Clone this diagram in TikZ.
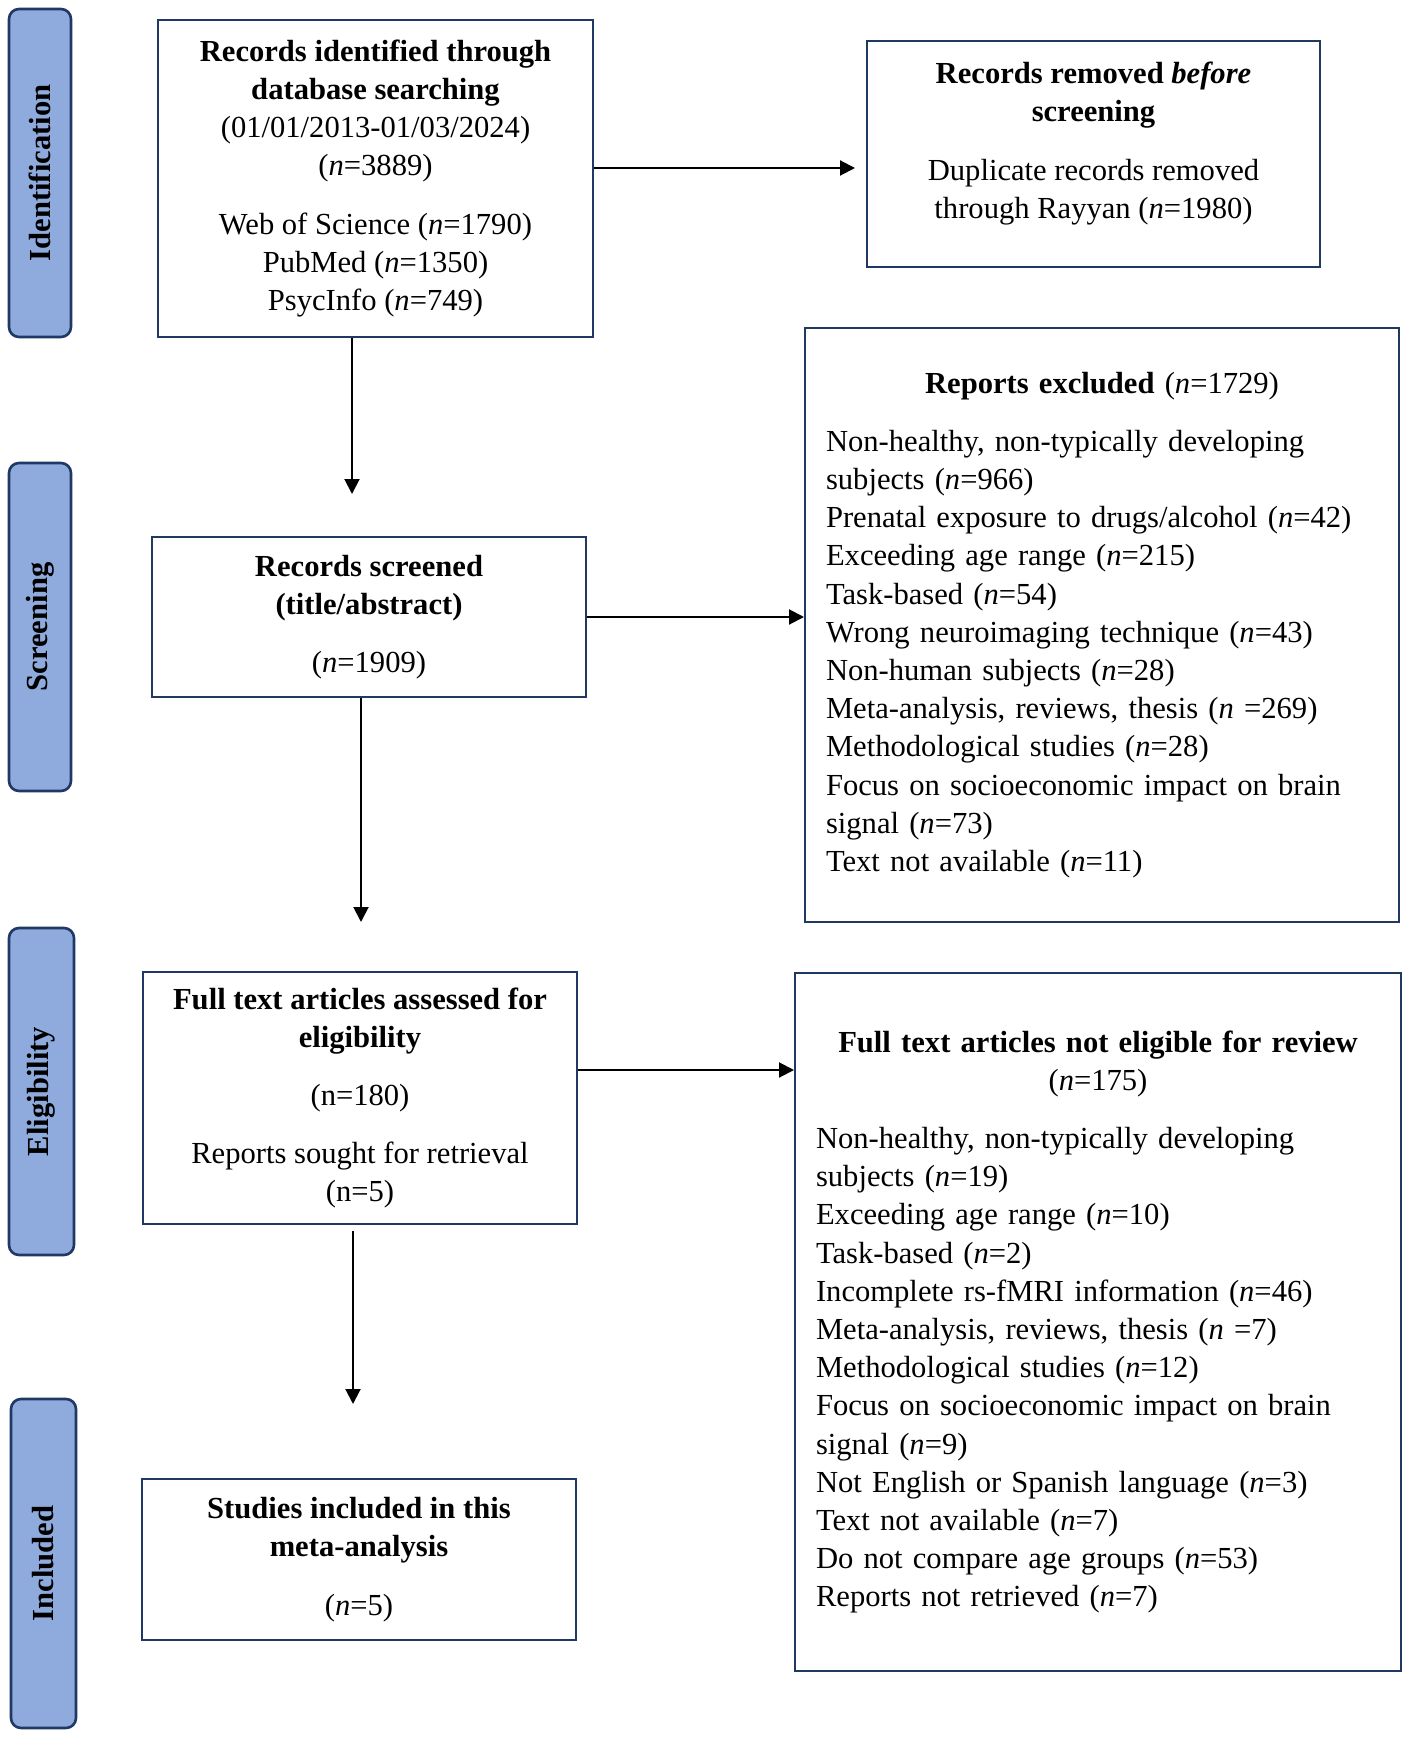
\documentclass[tikz,border=0pt]{standalone}
\usepackage{fontspec}
\setmainfont{Liberation Serif}
\usetikzlibrary{arrows.meta}
\definecolor{navy}{HTML}{1F3864}
\definecolor{tabblue}{HTML}{8FAADC}
\newcommand{\fsz}{\fontsize{15.3}{19.1}\selectfont}
\newcommand{\nn}{\textit{n}}
\begin{document}
\begin{tikzpicture}[x=0.5pt,y=-0.5pt,
  box/.style={draw=navy, line width=1pt, inner sep=0pt, align=center, font=\fsz},
  txt/.style={inner sep=0pt, align=center, font=\fsz},
  tab/.style={draw=navy, fill=tabblue, line width=1.3pt, rounded corners=5pt, rotate=90, font=\fsz\bfseries, inner sep=0pt},
  arr/.style={-{Triangle[length=7.5pt,width=7.5pt]}, line width=1pt, black}]
\fill[white] (0,0) rectangle (1418,1749);
\useasboundingbox (0,0) rectangle (1418,1749);

% stage tabs
\node[tab, minimum width=164pt, minimum height=31pt] (tid) at (40,173) {Identification};
\node[tab, minimum width=164pt, minimum height=31pt] (tsc) at (40,627) {Screening};
\node[tab, minimum width=163.5pt, minimum height=32.5pt] (tel) at (41.5,1091.5) {Eligibility};
\node[tab, minimum width=164.5pt, minimum height=32.5pt] (tin) at (43.5,1563.5) {Included};

% boxes
\node[box, minimum width=217.5pt, minimum height=158.5pt] (id) at (375.5,178.5)
  {\textbf{Records identified through}\\ \textbf{database searching}\\ (01/01/2013-01/03/2024)\\ (\nn=3889)\\[10pt]
   Web of Science (\nn=1790)\\ PubMed (\nn=1350)\\ PsycInfo (\nn=749)};

\node[box, minimum width=226.5pt, minimum height=113pt] (rem) at (1093.5,154) {};
\node[txt] (remtxt) at ([yshift=5.25pt]rem.center)
  {\textbf{Records removed \textit{before}}\\ \textbf{screening}\\[10pt]
   Duplicate records removed\\ through Rayyan (\nn=1980)};

\node[box, minimum width=297pt, minimum height=297pt, text width=276pt, align=left] (exc) at (1102,625)
  {\makebox[\linewidth]{\textbf{Reports excluded} (\nn=1729)}\\[10pt]
   Non-healthy, non-typically developing\\
   subjects (\nn=966)\\
   Prenatal exposure to drugs/alcohol (\nn=42)\\
   Exceeding age range (\nn=215)\\
   Task-based (\nn=54)\\
   Wrong neuroimaging technique (\nn=43)\\
   Non-human subjects (\nn=28)\\
   Meta-analysis, reviews, thesis (\nn\ =269)\\
   Methodological studies (\nn=28)\\
   Focus on socioeconomic impact on brain\\
   signal (\nn=73)\\
   Text not available (\nn=11)};

\node[box, minimum width=217pt, minimum height=80pt] (scr) at (369,617)
  {\textbf{Records screened}\\ \textbf{(title/abstract)}\\[10pt] (\nn=1909)};

\node[box, minimum width=217pt, minimum height=126pt] (full) at (360,1098)
  {\textbf{Full text articles assessed for}\\ \textbf{eligibility}\\[9.7pt] (n=180)\\[9.7pt]
   Reports sought for retrieval\\ (n=5)};

\node[box, minimum width=217pt, minimum height=80.5pt] (inc) at (359,1559.5)
  {\textbf{Studies included in this}\\ \textbf{meta-analysis}\\[10pt] (\nn=5)};

\node[box, minimum width=303pt, minimum height=349pt, text width=282pt, align=left] (ne) at (1098,1322)
  {\makebox[\linewidth]{\textbf{Full text articles not eligible for review}}\\
   \makebox[\linewidth]{(\nn=175)}\\[10pt]
   Non-healthy, non-typically developing\\
   subjects (\nn=19)\\
   Exceeding age range (\nn=10)\\
   Task-based (\nn=2)\\
   Incomplete rs-fMRI information (\nn=46)\\
   Meta-analysis, reviews, thesis (\nn\ =7)\\
   Methodological studies (\nn=12)\\
   Focus on socioeconomic impact on brain\\
   signal (\nn=9)\\
   Not English or Spanish language (\nn=3)\\
   Text not available (\nn=7)\\
   Do not compare age groups (\nn=53)\\
   Reports not retrieved (\nn=7)};

% connectors
\coordinate (c1) at (855,168);
\draw[arr] (id.east |- c1) -- (c1);
\draw[arr] (scr.east) -- (scr.east -| exc.west);
\coordinate (c3) at (795,1070);
\draw[arr] (full.east |- c3) -- (ne.west |- c3);
\coordinate (d1) at (352,494);
\draw[arr] (id.south -| d1) -- (d1);
\coordinate (d2) at (361,922);
\draw[arr] (scr.south -| d2) -- (d2);
\coordinate (d3) at (353,1404);
\draw[arr, shorten <=3pt] (full.south -| d3) -- (d3);
\end{tikzpicture}
\end{document}
